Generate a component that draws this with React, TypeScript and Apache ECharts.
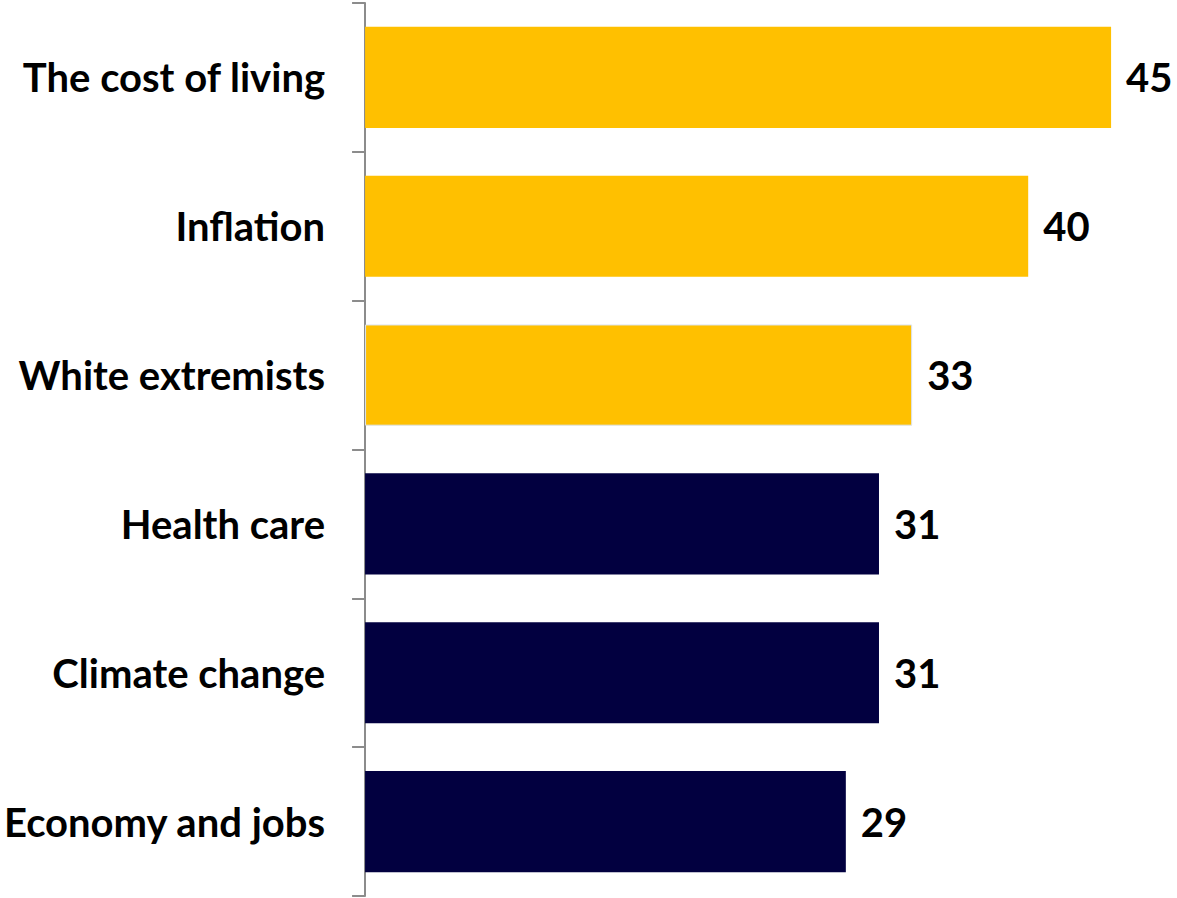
import React, { useEffect, useRef } from "react";
import * as echarts from "echarts";

const categories = ["The cost of living", "Inflation", "White extremists", "Health care", "Climate change", "Economy and jobs"];
const values = [45, 40, 33, 31, 31, 29];
const barColors = ["#FFC000", "#FFC000", "#FFC000", "#020040", "#020040", "#020040"];

export default function App() {
  const ref = useRef<HTMLDivElement>(null);
  useEffect(() => {
    const chart = echarts.init(ref.current!, undefined, { renderer: "svg" });
    const font = "Lato, 'Noto Sans', sans-serif";
    chart.setOption({
      animation: false,
      grid: { left: 363, top: 3, bottom: 2, right: 1177 - 363 - (748 / 45) * 47, containLabel: false },
      xAxis: {
        type: "value",
        min: 0,
        max: 47,
        show: false,
      },
      yAxis: {
        type: "category",
        data: categories,
        inverse: true,
        axisLine: { show: true, lineStyle: { color: "#8c8c8c", width: 2 } },
        axisTick: { show: true, length: 13, lineStyle: { color: "#8c8c8c", width: 2 } },
        axisLabel: {
          margin: 40,
          color: "#000",
          fontFamily: font,
          fontWeight: "bold",
          fontSize: 40,
        },
      },
      series: [
        {
          type: "bar",
          barCategoryGap: "32%",
          data: values.map((v, i) => ({
            value: v,
            itemStyle: {
              color: barColors[i],
              borderColor: i === 2 ? "#dbe3ee" : undefined,
              borderWidth: i === 2 ? 1 : 0,
            },
          })),
          label: {
            show: true,
            position: "right",
            distance: 15,
            color: "#000",
            fontFamily: font,
            fontWeight: "bold",
            fontSize: 40,
          },
        },
      ],
    });
    return () => chart.dispose();
  }, []);
  return <div ref={ref} style={{ position: "absolute", left: 0, top: 0, width: 1177, height: 898 }} />;
}
